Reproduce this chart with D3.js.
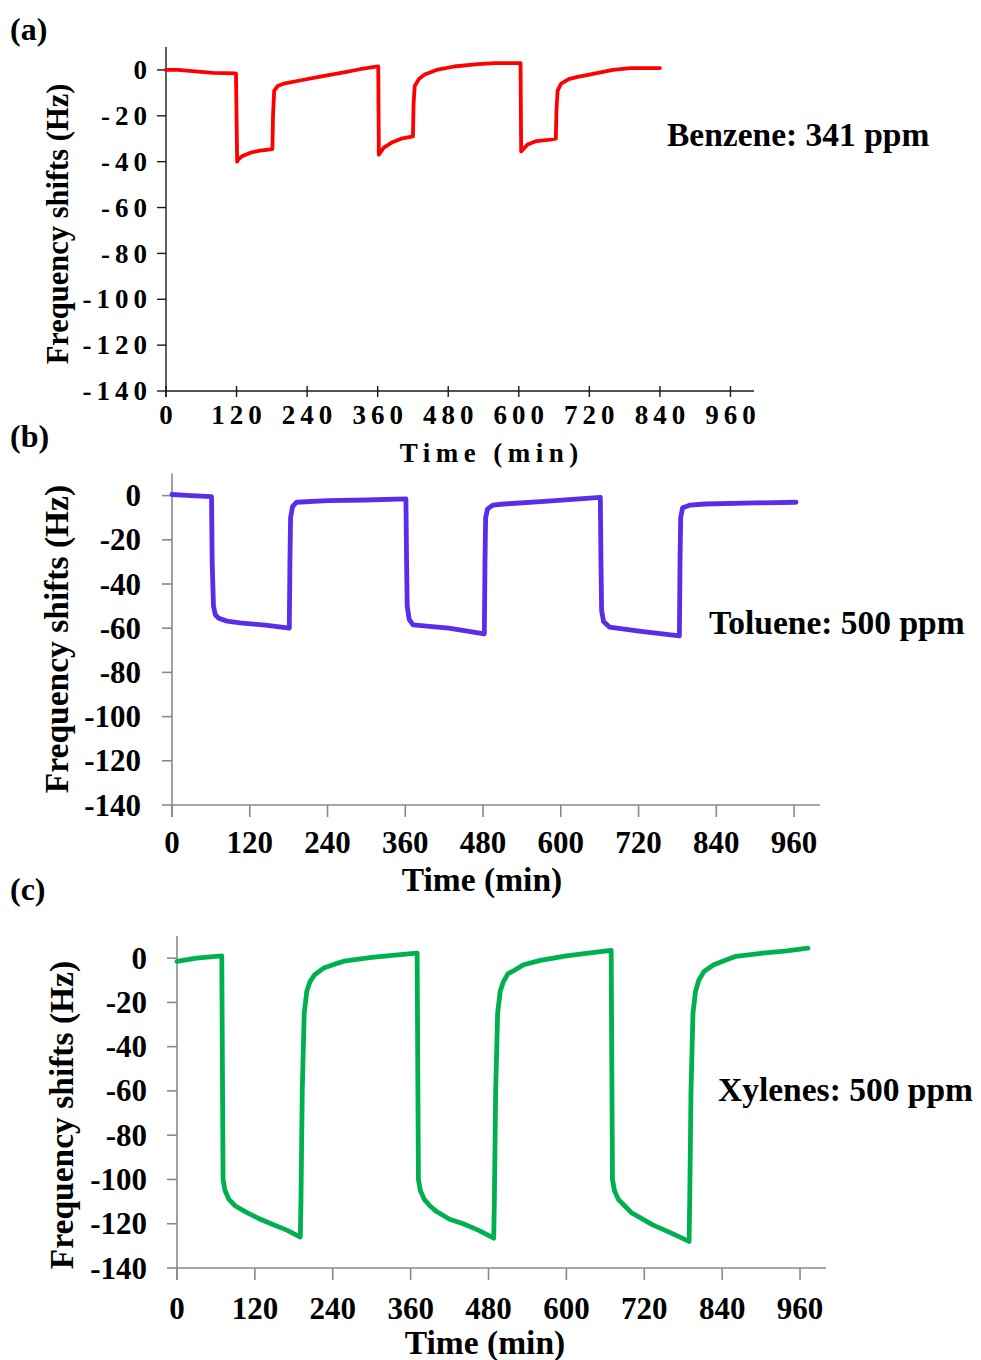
<!DOCTYPE html>
<html>
<head>
<meta charset="utf-8">
<script src="https://cdn.jsdelivr.net/npm/d3@7/dist/d3.min.js"></script>
<style>
  html, body { margin: 0; padding: 0; background: #fff; }
  svg { display: block; font-family: "Liberation Serif", "Times New Roman", serif; font-weight: bold; }
</style>
</head>
<body>
<svg id="chart" width="981" height="1360"></svg>
<script>
// ---------- DATA ----------
const xTicks = [0, 120, 240, 360, 480, 600, 720, 840, 960];
const yTicks = [0, -20, -40, -60, -80, -100, -120, -140];
const panelLetters = ["(a)", "(b)", "(c)"];
const gasLabels = ["Benzene: 341 ppm", "Toluene: 500 ppm", "Xylenes: 500 ppm"];
const xTitle = "Time (min)";
const yTitle = "Frequency shifts (Hz)";

// (a) Benzene
const benzT = [0, 20, 50, 80, 119, 121, 123, 130, 145, 160, 181, 182, 184, 190, 200, 230, 260, 300, 330, 360, 361, 362, 370, 385, 400, 420, 421, 423, 430, 440, 460, 490, 530, 560, 603, 604, 615, 630, 650, 663, 664, 666, 672, 685, 700, 720, 760, 790, 840];
const benzV = [0, 0, -0.6, -1.3, -1.5, -40, -39, -37.5, -36, -35.2, -34.5, -20, -9, -7, -6, -4.5, -3, -1.2, 0.3, 1.5, 1.5, -37, -34, -31.5, -30, -29, -15, -7, -4, -2, 0, 1.5, 2.5, 3, 3, -35.5, -32.5, -31, -30.5, -30, -18, -9, -6, -4, -3, -2, 0, 0.8, 0.8];

// (b) Toluene
const tolT = [0, 30, 61, 62, 64, 67, 72, 85, 105, 144, 181, 182, 183, 186, 192, 240, 300, 361, 362, 363, 366, 372, 427, 482, 483, 484, 487, 495, 512, 580, 661, 662, 663, 666, 675, 724, 783, 784, 785, 788, 800, 822, 900, 963];
const tolV = [0.5, 0, -0.5, -30, -50, -54, -55.5, -56.8, -57.6, -58.6, -60, -30, -10, -5, -3, -2.3, -2, -1.5, -30, -50, -56, -58.5, -60, -62.6, -30, -10, -6, -4.3, -3.8, -2.5, -0.8, -30, -52, -57, -59.5, -61.4, -63.5, -30, -10, -5.5, -4.3, -3.8, -3.3, -3];

// (c) Xylenes
const xylT = [0, 30, 60, 69, 70, 71, 74, 80, 90, 105, 125, 145, 170, 190, 191, 193, 196, 200, 205, 212, 226, 245, 260, 300, 340, 370, 371, 372, 375, 381, 390, 400, 420, 441, 465, 488, 489, 491, 494, 498, 503, 510, 520, 534, 560, 600, 640, 669, 670, 671, 674, 680, 690, 700, 733, 760, 789, 790, 792, 795, 799, 804, 812, 827, 861, 900, 940, 972];
const xylV = [-1.5, 0, 0.8, 1, -50, -100, -105, -109, -112, -114.5, -117.5, -120, -123, -126, -110, -60, -25, -15, -10.6, -7.5, -4.5, -2.5, -1.2, 0.3, 1.5, 2.3, -50, -100, -105, -109, -112, -114.5, -118, -120, -123, -126.5, -110, -60, -25, -15, -10.6, -7, -5.5, -3, -1, 1, 2.5, 3.5, -50, -100, -105, -109, -112, -115, -120.5, -124, -128, -110, -60, -25, -15, -10, -6, -3, 0.8, 2.2, 3.3, 4.5];

// ---------- DRAW ----------
const svg = d3.select("#chart");

const panels = [
  { T: benzT, V: benzV, color: "#ff0000", lw: 3.8,
    x0: 166, x1: 754, yTop: 47, yBot: 391,
    axisColor: "#1a1a1a", axisW: 1.4,
    tickFont: 27, tickLS: 5, tickLabelRight: 147, xLabelBase: 424,
    yTickLen: 9, xTickUp: 5, xTickDown: 6,
    titleFont: 27, titleLS: 5.5, titleX: 489, titleBase: 462,
    yTitleFont: 30.5, yTitleX: 68, yTitleY: 224,
    letterY: 40, gasX: 667, gasBase: 146 },
  { T: tolT, V: tolV, color: "#5a2de8", lw: 4.8,
    x0: 172, x1: 820, yTop: 473.5, yBot: 805,
    axisColor: "#8a8a8a", axisW: 1.6,
    tickFont: 31, tickLS: 0, tickLabelRight: 141, xLabelBase: 853,
    yTickLen: 10, xTickUp: 0, xTickDown: 12,
    titleFont: 33.5, titleLS: 0, titleX: 482, titleBase: 891,
    yTitleFont: 33.5, yTitleX: 68, yTitleY: 639,
    letterY: 447, gasX: 709, gasBase: 634 },
  { T: xylT, V: xylV, color: "#00b050", lw: 4.8,
    x0: 177, x1: 826, yTop: 936, yBot: 1268,
    axisColor: "#8a8a8a", axisW: 1.6,
    tickFont: 31, tickLS: 0, tickLabelRight: 147, xLabelBase: 1319,
    yTickLen: 10, xTickUp: 0, xTickDown: 12,
    titleFont: 33.5, titleLS: 0, titleX: 485, titleBase: 1354,
    yTitleFont: 33.5, yTitleX: 73, yTitleY: 1115,
    letterY: 900, gasX: 718, gasBase: 1101 }
];

panels.forEach((p, i) => {
  const x = d3.scaleLinear().domain([0, 1000]).range([p.x0, p.x1]);
  const y = d3.scaleLinear().domain([-140, 10]).range([p.yBot, p.yTop]);
  const g = svg.append("g");

  // axes lines
  g.append("line").attr("x1", x(0)).attr("x2", x(0)).attr("y1", y(10)).attr("y2", y(-140) + (p.xTickDown > 6 ? p.xTickDown : 6))
    .attr("stroke", p.axisColor).attr("stroke-width", p.axisW);
  g.append("line").attr("x1", x(0)).attr("x2", x(1000)).attr("y1", y(-140)).attr("y2", y(-140))
    .attr("stroke", p.axisColor).attr("stroke-width", p.axisW);

  // y ticks
  g.selectAll(".yt").data(yTicks).enter().append("line")
    .attr("x1", x(0) - p.yTickLen).attr("x2", x(0)).attr("y1", d => y(d)).attr("y2", d => y(d))
    .attr("stroke", p.axisColor).attr("stroke-width", p.axisW);
  g.selectAll(".yl").data(yTicks).enter().append("text")
    .attr("x", p.tickLabelRight + p.tickLS).attr("y", d => y(d))
    .attr("dy", "0.34em").attr("text-anchor", "end")
    .attr("font-size", p.tickFont).attr("letter-spacing", p.tickLS)
    .attr("fill", "#000").text(d => d);

  // x ticks
  g.selectAll(".xt").data(xTicks).enter().append("line")
    .attr("x1", d => x(d)).attr("x2", d => x(d))
    .attr("y1", y(-140) - p.xTickUp).attr("y2", y(-140) + p.xTickDown)
    .attr("stroke", p.axisColor).attr("stroke-width", p.axisW);
  g.selectAll(".xl").data(xTicks).enter().append("text")
    .attr("x", d => x(d) + p.tickLS / 2).attr("y", p.xLabelBase)
    .attr("text-anchor", "middle")
    .attr("font-size", p.tickFont).attr("letter-spacing", p.tickLS)
    .attr("fill", "#000").text(d => d);

  // x title
  g.append("text").attr("x", p.titleX + p.titleLS / 2).attr("y", p.titleBase)
    .attr("text-anchor", "middle").attr("font-size", p.titleFont)
    .attr("letter-spacing", p.titleLS).text(xTitle);

  // y title
  g.append("text")
    .attr("transform", `translate(${p.yTitleX},${p.yTitleY}) rotate(-90)`)
    .attr("text-anchor", "middle").attr("font-size", p.yTitleFont).text(yTitle);

  // line
  const pts = p.T.map((t, k) => [t, p.V[k]]);
  const line = d3.line().x(d => x(d[0])).y(d => y(d[1])).curve(d3.curveLinear);
  g.append("path").datum(pts).attr("d", line)
    .attr("fill", "none").attr("stroke", p.color).attr("stroke-width", p.lw)
    .attr("stroke-linejoin", "round").attr("stroke-linecap", "round");

  // panel letter
  g.append("text").attr("x", 10).attr("y", p.letterY).attr("font-size", 32).text(panelLetters[i]);
  // gas label
  g.append("text").attr("x", p.gasX).attr("y", p.gasBase).attr("font-size", 33.5).text(gasLabels[i]);
});
</script>
</body>
</html>
